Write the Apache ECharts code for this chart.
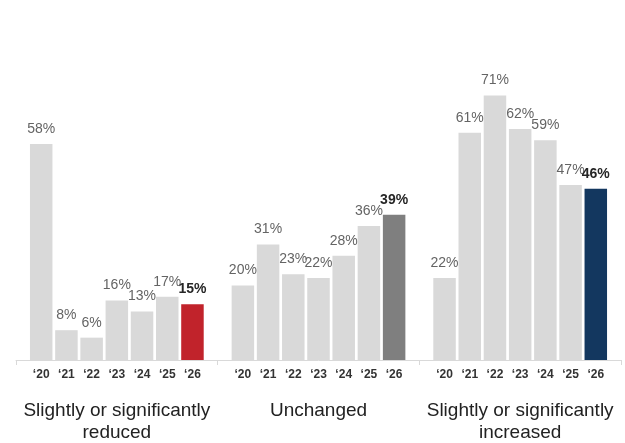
<!DOCTYPE html>
<html>
<head>
<meta charset="utf-8">
<script src="https://cdn.jsdelivr.net/npm/echarts@6/dist/echarts.min.js"></script>
<style>
  html, body { margin: 0; padding: 0; background: #ffffff; }
  #chart { width: 625px; height: 443px; }
</style>
</head>
<body>
<div id="chart"></div>
<script>
// Survey years, shown under every group
const years = ['‘20', '‘21', '‘22', '‘23', '‘24', '‘25', '‘26'];

// Group captions
const groups = [
  'Slightly or significantly\nreduced',
  'Unchanged',
  'Slightly or significantly\nincreased'
];

// Share of respondents (%) per year, one array per group
const reduced   = [58, 8, 6, 16, 13, 17, 15];
const unchanged = [20, 31, 23, 22, 28, 36, 39];
const increased = [22, 61, 71, 62, 59, 47, 46];

const groupValues = [reduced, unchanged, increased];
const latestColors = ['#c1232b', '#7f7f7f', '#13375f'];
const pastColor = '#d9d9d9';

// Each group occupies 8 units on the x scale: bars sit at 1..7, boundaries at 0 and 8
const SLOTS = 8;
const data = [];
groupValues.forEach((vals, g) => {
  vals.forEach((v, k) => {
    const last = k === vals.length - 1;
    data.push({
      value: [g * SLOTS + k + 1, v],
      itemStyle: { color: last ? latestColors[g] : pastColor },
      label: last
        ? { fontWeight: 'bold', color: '#262626', fontSize: 14 }
        : { fontWeight: 'normal', color: '#646464', fontSize: 14 }
    });
  });
});

const xMax = SLOTS * groups.length;
const chart = echarts.init(document.getElementById('chart'), null, { renderer: 'canvas' });

chart.setOption({
  animation: false,
  textStyle: { fontFamily: 'Liberation Sans, Arial, sans-serif' },
  grid: { left: 16, right: 4, top: 62, bottom: 83, outerBoundsMode: 'none', containLabel: false },
  xAxis: [
    {
      // year labels
      type: 'value', position: 'bottom', min: 0, max: xMax, interval: 1,
      axisLine: { show: false }, axisTick: { show: false }, splitLine: { show: false },
      axisLabel: {
        margin: 9, fontSize: 12, fontWeight: 'bold', color: '#333333',
        formatter: v => (v % SLOTS === 0 ? '' : years[(v % SLOTS) - 1])
      }
    },
    {
      // baseline with ticks at group boundaries
      type: 'value', position: 'bottom', min: 0, max: xMax, interval: SLOTS,
      axisLine: { show: true, lineStyle: { color: '#d9d9d9', width: 1 } },
      axisTick: { show: true, inside: false, length: 5, lineStyle: { color: '#d9d9d9' } },
      axisLabel: { show: false }, splitLine: { show: false }
    },
    {
      // group captions centred under each group
      type: 'value', position: 'bottom', min: 0, max: xMax, interval: SLOTS / 2,
      axisLine: { show: false }, axisTick: { show: false }, splitLine: { show: false },
      axisLabel: {
        margin: 40, fontSize: 19, lineHeight: 22, color: '#222222', align: 'center',
        formatter: v => (v % SLOTS === SLOTS / 2 ? groups[Math.floor(v / SLOTS)] : '')
      }
    }
  ],
  yAxis: {
    type: 'value', min: 0, max: 80, show: false,
    splitLine: { show: false }
  },
  series: [{
    type: 'bar',
    xAxisIndex: 0,
    barWidth: 22.5,
    data: data,
    label: {
      show: true, position: 'top', distance: 8,
      formatter: p => p.value[1] + '%'
    }
  }]
});
</script>
</body>
</html>
